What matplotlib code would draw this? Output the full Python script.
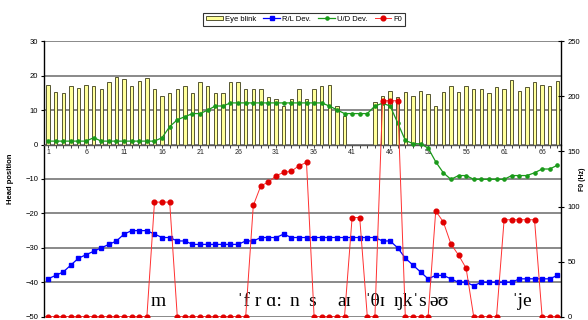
import numpy as np
import matplotlib
matplotlib.use("Agg")
import matplotlib.pyplot as plt
from matplotlib.patches import Patch
from matplotlib.lines import Line2D

nan = np.nan
categories = list(range(1, 69))
tick_labels = [str(c) if (c - 1) % 5 == 0 else "" for c in categories]

eye_blink = [17.3, 15.3, 15.0, 17.1, 16.3, 17.3, 17.0, 16.2, 18.2, 19.5,
             19.1, 17.0, 18.6, 19.2, 16.2, 14.0, 14.9, 16.2, 17.0, 14.9,
             18.2, 17.0, 14.9, 14.9, 18.2, 18.2, 16.2, 16.2, 16.2, 13.9,
             13.1, 11.2, 13.2, 16.2, 13.3, 16.2, 17.0, 17.3, 11.1, 8.2,
             nan, nan, nan, 12.4, 14.1, 15.7, 13.8, 15.2, 14.0, 15.5,
             14.7, 11.2, 15.3, 17.1, 15.3, 17.1, 16.2, 16.2, 15.0, 16.6,
             16.2, 18.8, 15.6, 16.6, 18.2, 17.4, 17.1, 18.4]

rl_dev = [-39, -38, -37, -35, -33, -32, -31, -30, -29, -28,
          -26, -25, -25, -25, -26, -27, -27, -28, -28, -29,
          -29, -29, -29, -29, -29, -29, -28, -28, -27, -27,
          -27, -26, -27, -27, -27, -27, -27, -27, -27, -27,
          -27, -27, -27, -27, -28, -28, -30, -33, -35, -37,
          -39, -38, -38, -39, -40, -40, -41, -40, -40, -40,
          -40, -40, -39, -39, -39, -39, -39, -38]

ud_dev = [1, 1, 1, 1, 1, 1, 2, 1, 1, 1,
          1, 1, 1, 1, 1, 2, 5.2, 7.2, 8.1, 9,
          9, 10, 11.2, 11.2, 12.1, 12.1, 12.1, 12.1, 12.1, 12.1,
          12.1, 12.1, 12.1, 12.1, 12.1, 12.1, 12.1, 11.2, 10.1, 9,
          9, 9, 9, 11.2, 12, 11.2, 6.3, 1.2, 0.3, 0.2,
          -1, -5, -8.2, -10.1, -9, -9, -10.1, -10.1, -10.1, -10.1,
          -10.1, -9, -9, -9, -8.2, -7.1, -7.1, -6]

f0 = [0, 0, 0, 0, 0, 0, 0, 0, 0, 0,
      0, 0, 0, 0, 104, 104, 104, 0, 0, 0,
      0, 0, 0, 0, 0, 0, 0, 101, 119, 122,
      128, 131, 132, 137, 140, 0, 0, 0, 0, 0,
      90, 90, 0, 0, 196, 196, 196, 0, 0, 0,
      0, 96, 86, 66, 56, 44, 0, 0, 0, 0,
      88, 88, 88, 88, 88, 0, 0, 0]

phon_labels = ["m", "ˈf r ɑ:", "n", "s", "aɪ", "ˈθɪ", "ŋkˈs", "əʊ", "ˈje"]
phon_x = [14.5, 25.9, 32.8, 35.2, 39.0, 42.6, 46.4, 51.2, 61.9]

plt.rcParams['font.family'] = ['Liberation Sans', 'DejaVu Sans']

fig = plt.figure(figsize=(5.88, 3.2), dpi=100)
ax = fig.add_axes([0.0753, 0.0103, 0.8790, 0.8607])
ax2 = ax.twinx()

x = np.array(categories)
ax.bar(x, eye_blink, width=0.45, color="#ffff99", edgecolor="#555533",
       linewidth=0.7, zorder=2)
ax.plot(x, rl_dev, color="#0000ff", marker="s", markersize=3.0,
        linewidth=0.9, zorder=3)
ax.plot(x, ud_dev, color="#1a9a1a", marker="o", markersize=2.3,
        linewidth=0.9, zorder=3)
ax2.plot(x, f0, color="#ff3030", marker="o", markersize=3.4,
         markerfacecolor="#e00000", markeredgecolor="#e00000",
         linewidth=0.7, zorder=4)

ax.set_xlim(0.5, 68.5)
ax.set_ylim(-50, 30)
ax2.set_ylim(0, 250)
ax.set_yticks(range(-50, 31, 10))
ax2.set_yticks(range(0, 251, 50))

ax.set_axisbelow(True)
ax.yaxis.grid(True, color="#808080", linewidth=1.3)
ax.xaxis.grid(False)

ax.spines['bottom'].set_position(('data', 0))
ax.spines['bottom'].set_color("#555555")
ax.spines['bottom'].set_linewidth(1.0)
ax.spines['top'].set_visible(False)
ax.spines['right'].set_visible(False)
ax.spines['left'].set_color("black")
ax.spines['left'].set_linewidth(1.0)
ax2.spines['top'].set_visible(False)
ax2.spines['bottom'].set_visible(False)
ax2.spines['left'].set_visible(False)
ax2.spines['right'].set_color("black")
ax2.spines['right'].set_linewidth(1.0)

ax.set_xticks(x)
ax.set_xticklabels(tick_labels, fontsize=5)
ax.tick_params(axis='x', length=2, width=0.6, pad=1.5, colors="#222222")
ax.tick_params(axis='y', labelsize=5.5, length=2.5, width=0.8, pad=2)
ax2.tick_params(axis='y', labelsize=5.5, length=5, width=0.8,
                direction='inout', pad=2)

ax.set_ylabel("Head position", fontsize=5.5, fontweight="bold", labelpad=8)
fig.text(0.997, 0.44, "F0 (Hz)", fontsize=5, fontweight="bold",
         rotation=90, ha='right', va='center')

for s, px in zip(phon_labels, phon_x):
    ax.text(px, -47.0, s, fontsize=14,
            family=['Liberation Serif', 'DejaVu Serif'],
            ha='left', va='baseline', zorder=5)

handles = [Patch(facecolor="#ffff99", edgecolor="#555533", linewidth=0.7),
           Line2D([], [], color="#0000ff", marker="s", markersize=3, linewidth=0.9),
           Line2D([], [], color="#1a9a1a", marker="o", markersize=2.3, linewidth=0.9),
           Line2D([], [], color="#ff3030", marker="o", markersize=3.4,
                  markerfacecolor="#e00000", markeredgecolor="#e00000", linewidth=0.7)]
leg = fig.legend(handles, ["Eye blink", "R/L Dev.", "U/D Dev.", "F0"],
                 loc='center', bbox_to_anchor=(0.517, 0.94), ncol=4,
                 fontsize=5.5, frameon=True, fancybox=False,
                 edgecolor="black", handlelength=2.2, handleheight=0.6,
                 columnspacing=1.0, handletextpad=0.2, borderpad=0.4)
leg.get_frame().set_linewidth(0.8)

fig.savefig("out.png", dpi=100)
